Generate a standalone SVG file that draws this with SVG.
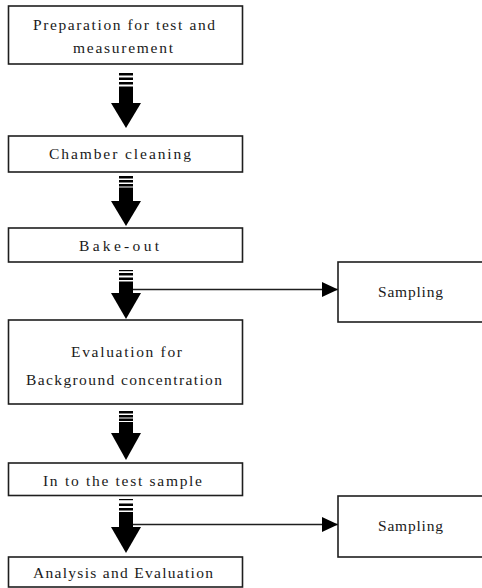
<svg xmlns="http://www.w3.org/2000/svg" width="482" height="588" viewBox="0 0 482 588">
<defs>
<style>
.box{fill:#fff;stroke:#1e1e1e;stroke-width:1.6}
.t{font-family:"Liberation Serif","DejaVu Serif",serif;font-size:15.5px;fill:#1a1a1a}
.blk{fill:#000}
.ln{stroke:#1e1e1e;stroke-width:1.3;fill:none}
</style>
<marker id="ah" markerUnits="userSpaceOnUse" markerWidth="16" markerHeight="16" viewBox="0 0 16 16" refX="16" refY="8" orient="auto">
<path d="M0,0.5 L16,8 L0,15.5 Z" fill="#000"/>
</marker>
</defs>
<rect width="482" height="588" fill="#fff"/>
<g id="connectors">
<g id="arrow1" class="blk">
<rect x="119" y="73" width="14" height="2.5"/><rect x="119" y="77.5" width="14" height="2.5"/><rect x="119" y="82" width="14" height="2.5"/>
<rect x="119" y="86.5" width="14" height="17"/><path d="M111,103 L141,103 L126,128 Z"/>
</g>
<g id="arrow2" class="blk">
<rect x="119" y="176" width="14" height="2.5"/><rect x="119" y="180" width="14" height="2.5"/><rect x="119" y="184" width="14" height="2.5"/>
<rect x="119" y="187.5" width="14" height="14"/><path d="M111,201 L141,201 L126,226 Z"/>
</g>
<g id="arrow3" class="blk">
<rect x="119" y="270" width="14" height="1.2"/><rect x="119" y="273" width="14" height="2.5"/><rect x="119" y="277.5" width="14" height="2.5"/>
<rect x="119" y="281.5" width="14" height="12"/><path d="M111,293 L141,293 L126,319 Z"/>
</g>
<g id="arrow4" class="blk">
<rect x="119" y="411" width="14" height="2.5"/><rect x="119" y="415" width="14" height="2.5"/><rect x="119" y="418.5" width="14" height="2.5"/>
<rect x="119" y="422" width="14" height="11.5"/><path d="M111,433 L141,433 L126,460 Z"/>
</g>
<g id="arrow5" class="blk">
<rect x="119" y="499" width="14" height="1.2"/><rect x="119" y="503.5" width="14" height="2.5"/><rect x="119" y="508" width="14" height="2.5"/>
<rect x="119" y="512" width="14" height="15.5"/><path d="M111,527 L141,527 L126,553 Z"/>
</g>
<line class="ln" x1="133" y1="289.5" x2="338" y2="289.5" marker-end="url(#ah)"/>
<line class="ln" x1="133" y1="524.5" x2="338" y2="524.5" marker-end="url(#ah)"/>
</g>
<g id="n1">
<rect class="box" x="8.5" y="6" width="234" height="58"/>
<text class="t" x="33" y="30" textLength="182" lengthAdjust="spacing">Preparation for test and</text>
<text class="t" x="73" y="53" textLength="100" lengthAdjust="spacing">measurement</text>
</g>
<g id="n2">
<rect class="box" x="8.5" y="136" width="234" height="36"/>
<text class="t" x="49" y="159" textLength="142" lengthAdjust="spacing">Chamber cleaning</text>
</g>
<g id="n3">
<rect class="box" x="8.5" y="228" width="234" height="34"/>
<text class="t" x="79" y="251" textLength="80" lengthAdjust="spacing">Bake-out</text>
</g>
<g id="s1">
<rect class="box" x="338" y="262" width="160" height="60"/>
<text class="t" x="378" y="297" textLength="65" lengthAdjust="spacing">Sampling</text>
</g>
<g id="n4">
<rect class="box" x="8.5" y="320" width="234" height="84"/>
<text class="t" x="71" y="357" textLength="111" lengthAdjust="spacing">Evaluation for</text>
<text class="t" x="26" y="385" textLength="196" lengthAdjust="spacing">Background concentration</text>
</g>
<g id="n5">
<rect class="box" x="8.5" y="463" width="234" height="32.5"/>
<text class="t" x="43" y="486" textLength="159" lengthAdjust="spacing">In to the test sample</text>
</g>
<g id="s2">
<rect class="box" x="338" y="496" width="160" height="61"/>
<text class="t" x="378" y="531" textLength="65" lengthAdjust="spacing">Sampling</text>
</g>
<g id="n6">
<rect class="box" x="8.5" y="557" width="234" height="30"/>
<text class="t" x="33" y="578" textLength="180" lengthAdjust="spacing">Analysis and Evaluation</text>
</g>
</svg>
